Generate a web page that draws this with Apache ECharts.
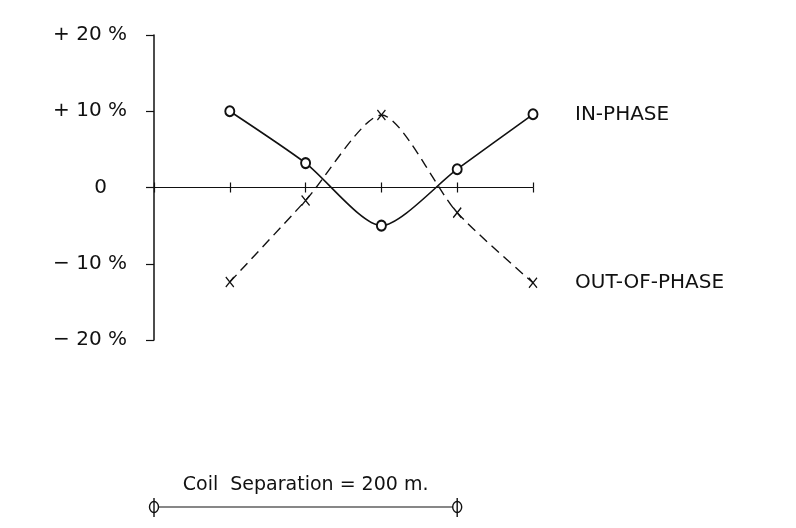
<!DOCTYPE html>
<html>
<head>
<meta charset="utf-8">
<script src="https://cdn.jsdelivr.net/npm/echarts@6/dist/echarts.min.js"></script>
<style>
  html, body { margin: 0; padding: 0; background: #fff; }
  #main { width: 796px; height: 528px; }
</style>
</head>
<body>
<div id="main"></div>
<script>
// station positions (1 unit = 50 m), anomaly in percent
var stations = [1, 2, 3, 4, 5];
var inPhase = [10, 3.2, -5, 2.4, 9.6];
var outOfPhase = [-12.4, -1.7, 9.5, -3.3, -12.5];
var yTicks = { 20: "+ 20 %", 10: "+ 10 %", 0: "{z|0}", "-10": "\u2212 10 %", "-20": "\u2212 20 %" };
var coilUnits = 4; // 200 m
var coilText = "Coil  Separation = 200 m.";

var ink = "#111";
var font = "DejaVu Sans";

function pairs(ys) {
  return stations.map(function (x, i) { return [x, ys[i]]; });
}

var myChart = echarts.init(document.getElementById("main"));
var option = {
  animation: false,
  backgroundColor: "#fff",
  textStyle: { fontFamily: font, color: ink },
  grid: { left: 154, right: 263, top: 35, bottom: 188 },
  xAxis: [
    {
      type: "value", min: 0, max: 5, interval: 1,
      axisLine: { onZero: true, lineStyle: { color: ink, width: 1.2 } },
      axisTick: { show: true, length: 5, lineStyle: { color: ink, width: 1.2 } },
      axisLabel: { show: false },
      splitLine: { show: false }
    },
    {
      // same scale, ticks pointing up so they cross the zero line
      type: "value", min: 0, max: 5, interval: 1, position: "bottom", offset: -152.5,
      axisLine: { show: false, onZero: false },
      axisTick: { show: true, inside: true, length: 5, lineStyle: { color: ink, width: 1.2 } },
      axisLabel: { show: false },
      splitLine: { show: false }
    }
  ],
  yAxis: {
    type: "value", min: -20, max: 20, interval: 10,
    axisLine: { show: true, lineStyle: { color: ink, width: 1.5 } },
    axisTick: { show: true, length: 8, lineStyle: { color: ink, width: 1.2 } },
    axisLabel: {
      color: ink, fontSize: 20, fontFamily: font, align: "right", margin: 27,
      formatter: function (v) { return yTicks[v]; },
      rich: { z: { fontSize: 20, fontFamily: font, color: ink, padding: [0, 20, 0, 0] } }
    },
    splitLine: { show: false }
  },
  series: [
    {
      name: "IN-PHASE",
      type: "line",
      data: pairs(inPhase),
      smooth: 0.25,
      symbol: "emptyCircle",
      symbolSize: [9, 10],
      lineStyle: { color: ink, width: 1.6 },
      itemStyle: { color: ink, borderWidth: 1.5 },
      endLabel: {
        show: true, formatter: "{a}", distance: 42,
        color: ink, fontSize: 20, fontFamily: font
      },
      z: 3
    },
    {
      name: "OUT-OF-PHASE",
      type: "line",
      data: pairs(outOfPhase),
      smooth: 0.25,
      symbol: "path://M0,0L10,12M10,0L0,12",
      symbolSize: [8, 10],
      lineStyle: { color: ink, width: 1.4, type: [10, 6] },
      itemStyle: { color: ink, borderColor: ink, borderWidth: 1.4 },
      endLabel: {
        show: true, formatter: "{a}", distance: 42,
        color: ink, fontSize: 20, fontFamily: font
      },
      z: 2
    }
  ]
};
myChart.setOption(option, true);

// scale bar for coil separation, placed from the x axis scale
var x0 = myChart.convertToPixel({ xAxisIndex: 0 }, 0);
var x1 = myChart.convertToPixel({ xAxisIndex: 0 }, coilUnits);
var barY = 507;
function endMark(x) {
  return [
    { type: "ellipse", shape: { cx: x, cy: barY, rx: 4.5, ry: 5.5 }, style: { fill: "#fff", stroke: ink, lineWidth: 1.4 } },
    { type: "line", shape: { x1: x, y1: barY - 9, x2: x, y2: barY + 10 }, style: { stroke: ink, lineWidth: 1.4 } }
  ];
}
myChart.setOption({
  graphic: [
    { type: "line", shape: { x1: x0, y1: barY, x2: x1, y2: barY }, style: { stroke: ink, lineWidth: 1.2 } },
    { type: "text", x: (x0 + x1) / 2, y: 485,
      style: { text: coilText, fill: ink, fontSize: 19, fontFamily: font, align: "center", verticalAlign: "middle" } }
  ].concat(endMark(x0), endMark(x1))
});
</script>
</body>
</html>
